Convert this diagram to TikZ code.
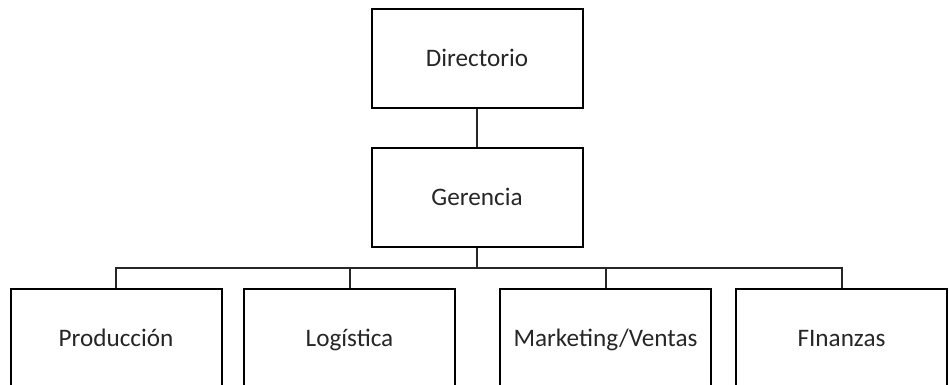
\documentclass[tikz,border=0pt]{standalone}
\usepackage{fontspec}
\setmainfont{Carlito}
\begin{document}
\begin{tikzpicture}[x=0.5pt, y=-0.5pt,
	unidad/.style={draw=black, text=black!85, line width=1pt, shape=rectangle, minimum width=105.5pt, minimum height=49.5pt, text height=2ex, text depth=0.3ex, font=\fontsize{12.6}{15}\selectfont},
	enlace/.style={draw=black!85, line width=1pt}]
						\useasboundingbox (0,0) rectangle (949,385);
						\clip (0,0) rectangle (949,385);

						\node[unidad] (dir) at (477,58.5) {Directorio};
						\node[unidad] (ger) at (477,197.5) {Gerencia};

						\node[unidad] (prod) at (116,338.5) {Producción};
						\node[unidad] (log) at (349.5,338.5) {Logística};
						\node[unidad] (mkt) at (605.5,338.5) {Marketing/Ventas};
						\node[unidad] (fin) at (841.5,338.5) {FInanzas};

						\coordinate (bus) at (477,268);

						\draw[enlace] (dir.south) -- (ger.north);
						\draw[enlace] (ger.south) -- (bus);
						\foreach \n in {prod,log,mkt,fin}
							\draw[enlace] (\n.north) |- (bus);
					\end{tikzpicture}
\end{document}
